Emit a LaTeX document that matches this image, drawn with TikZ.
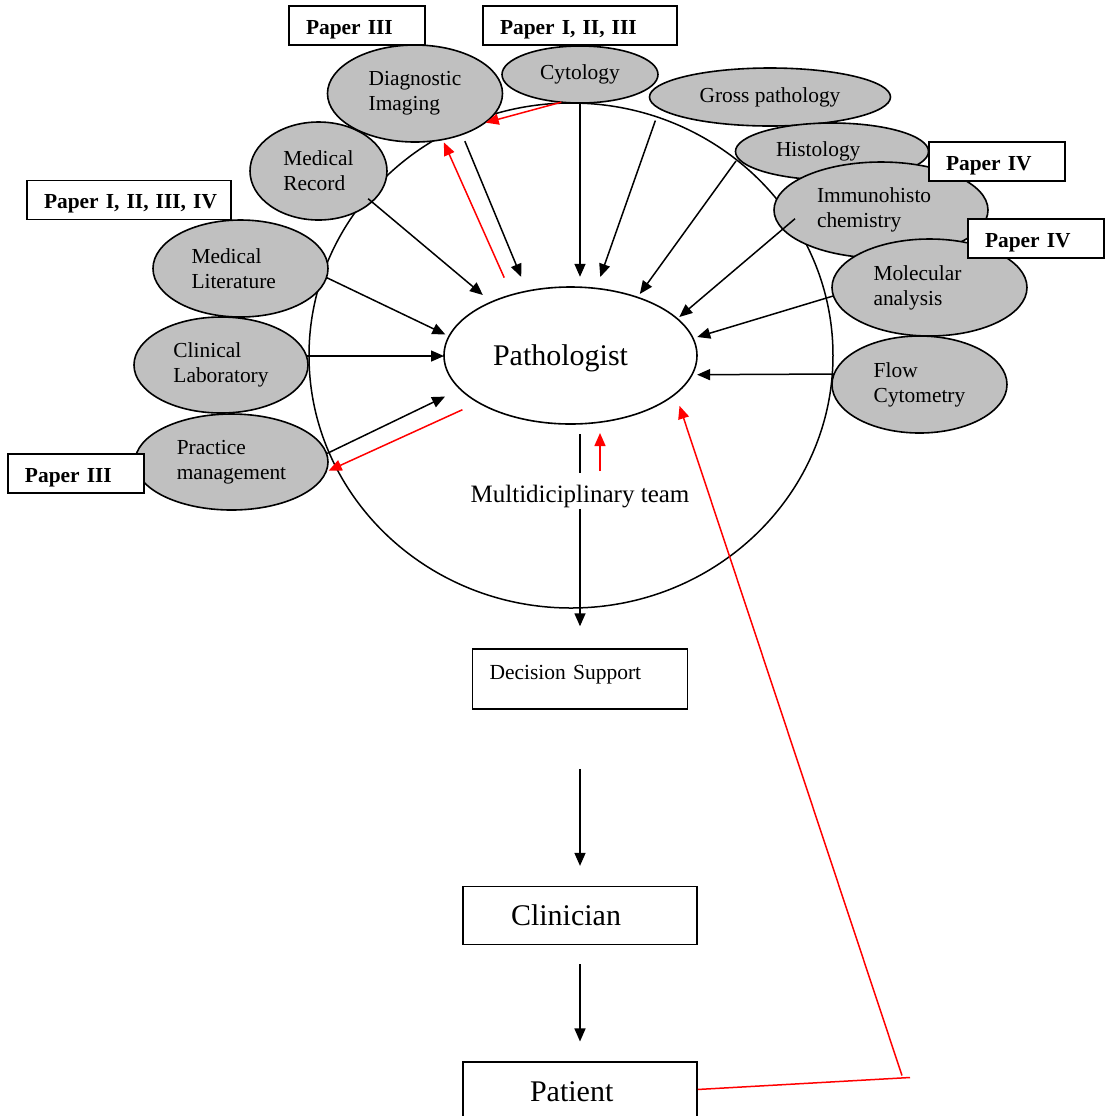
\documentclass[tikz,border=0pt]{standalone}
\usepackage{fontspec}
\setmainfont{Liberation Serif}
\usetikzlibrary{arrows.meta, positioning, shapes.geometric}
\definecolor{cellgrey}{HTML}{C0C0C0}
\tikzset{
  src/.style={ellipse, draw, fill=cellgrey, line width=0.8pt, inner sep=0pt, outer sep=0pt, align=left, font=\fontsize{10.7}{12.5}\selectfont},
  paper/.style={draw, fill=white, line width=0.8pt, inner xsep=8.5pt, inner ysep=0pt, minimum height=19.5pt, align=left, text height=9.5pt, text depth=0.7pt, font=\bfseries\fontsize{10.7}{12.5}\selectfont},
  stage/.style={draw, line width=0.8pt, align=left},
  link/.style={line width=0.75pt, -{Triangle[length=6.5pt,width=5.5pt]}},
  back/.style={link, red},
}

\begin{document}
\begin{tikzpicture}[x=0.5pt, y=-0.5pt]
\useasboundingbox (0,0) rectangle (1108,1116);
\node[ellipse, draw, line width=0.75pt, minimum width=262pt, minimum height=252.5pt, inner sep=0pt] (ring) at (571,355.5) {};

\node[src, minimum width=68.5pt, minimum height=49pt] (medrec) at (318.5,171) {Medical\\Record};
\node[src, minimum width=87.5pt, minimum height=48.5pt] (dimg) at (415,93.5) {Diagnostic\\Imaging};
\node[src, minimum width=78pt, minimum height=28.5pt] (cyto) at (580,74.5) {Cytology};
\node[src, minimum width=120.5pt, minimum height=29pt] (gross) at (770,97) {Gross pathology};
\node[src, minimum width=96.5pt, minimum height=28.5pt, text width=56pt] (histo) at (832,151.5) {Histology};
\node[src, minimum width=107pt, minimum height=48pt, text width=64pt] (immuno) at (881,210) {Immunohisto\\chemistry};
\node[src, minimum width=97.5pt, minimum height=48.5pt, text width=56pt] (molec) at (929.5,287.5) {Molecular\\analysis};
\node[src, minimum width=87.5pt, minimum height=48.5pt] (flow) at (919.5,384.5) {Flow\\Cytometry};
\node[src, minimum width=87.5pt, minimum height=48.5pt, text width=49pt] (medlit) at (240.5,268.5) {Medical\\Literature};
\node[src, minimum width=87pt, minimum height=48pt] (clinlab) at (221,365) {Clinical\\Laboratory};
\node[src, minimum width=96.5pt, minimum height=48pt] (practice) at (231.5,462) {Practice\\management};

\node[ellipse, draw, line width=0.8pt, minimum width=126.5pt, minimum height=68.5pt, inner sep=0pt, outer sep=0pt, text width=77.5pt, align=left, text depth=0pt, font=\fontsize{15}{18}\selectfont] (patho) at (570.5,355.5) {Pathologist};
\node[inner sep=0pt, font=\fontsize{12.5}{15}\selectfont] (mdt) at (580,497) {Multidiciplinary team};

\node[stage, below=69.75pt of mdt, minimum height=30pt, inner xsep=8.5pt, text width=90.5pt, text height=7.5pt, text depth=7.5pt, font=\fontsize{10.75}{13}\selectfont] (ds) {Decision Support};
\node[stage, below=88pt of ds, minimum height=29pt, inner xsep=24pt, text width=69pt, font=\fontsize{15}{18}\selectfont] (clin) {Clinician};
\node[stage, below=58pt of clin, inner xsep=33.5pt, inner ysep=9.5pt, text width=50pt, text height=10pt, text depth=12pt, font=\fontsize{15}{18}\selectfont] (pat) {Patient};

\node[paper, text width=51pt] (pp3a) at (357,25.5) {Paper III};
\node[paper, text width=80pt] (pp123) at (580,25.5) {\mbox{Paper I, II, III}};
\node[paper, text width=51pt] (pp4a) at (997,161.5) {Paper IV};
\node[paper, text width=51pt] (pp4b) at (1036,238.5) {Paper IV};
\node[paper, text width=85pt] (pp1234) at (129,200) {\mbox{Paper I, II, III, IV}};
\node[paper, text width=51pt] (pp3b) at (76,473.5) {Paper III};

\draw[link, shorten <=-2.4pt, shorten >=5.5pt] (medrec.-30.3) -- (patho.146);
\draw[link, shorten <=3.65pt, shorten >=7.7pt] (dimg.-41.8) -- (patho.124.1);
\draw[link, shorten >=5.1pt] (cyto) -- (cyto |- patho.north);
\draw[link, shorten <=6.35pt, shorten >=6.1pt] (gross.186.9) -- (patho.69.4);
\draw[link, shorten <=1.8pt, shorten >=2.1pt] (histo.184) -- (patho.41.1);
\draw[link, shorten <=-8pt, shorten >=1.35pt] (immuno.191.1) -- (patho.19.7);
\draw[link, shorten >=2.25pt] (molec.185.9) -- (patho.8.3);
\draw[link, shorten >=2.6pt] (flow.173.7) -- (patho.-9.1);
\draw[link, shorten >=2.05pt] (medlit.-6.2) -- (patho.171.3);
\draw[link] (clinlab.6) -- (clinlab.6 -| patho.west);
\draw[link, shorten >=8.5pt] (practice.5.9) -- (patho.197);

\draw[back, shorten >=0.65pt] (cyto.236.3) -- (dimg.-23.9);
\draw[back, shorten <=9.4pt, shorten >=1.6pt] (patho.134.8) -- (dimg.-59.5);
\draw[back, shorten <=8.75pt, shorten >=1.5pt] (patho.207.3) -- (practice.-6.2);
\draw[back, shorten <=7pt, shorten >=4.5pt] ([xshift=10pt]mdt.north) -- ([xshift=10pt]mdt.north |- patho.south);

\draw[line width=0.75pt, shorten <=5pt, shorten >=6pt] (mdt.north |- patho.south) -- (mdt.north);
\draw[link, shorten >=11pt] (mdt) -- (ds);
\draw[link, shorten <=29.5pt, shorten >=10pt] (ds) -- (clin);
\draw[link, shorten <=9.5pt, shorten >=10pt] (clin) -- (pat);

\coordinate (fbturn) at (910,1077.5);
\coordinate (fbrise) at (902,1075.5);
\draw[red, line width=0.75pt] ([yshift=-14pt]pat.north east) -- (fbturn);
\draw[back, shorten >=6.4pt] (fbrise) -- (patho.-20.7);
\end{tikzpicture}
\end{document}
